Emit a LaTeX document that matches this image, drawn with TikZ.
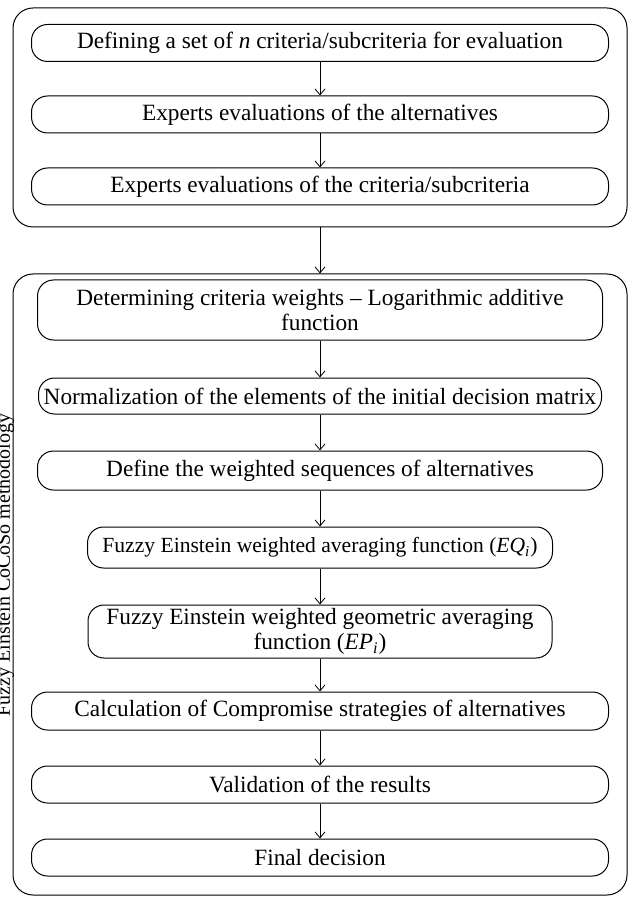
\documentclass[tikz,border=0pt]{standalone}
\usepackage{fontspec}
\setmainfont{Liberation Serif}
\usetikzlibrary{arrows.meta}
\newcommand\flowfont{\fontsize{11.65}{12.6}\selectfont}
\newcommand\smallflowfont{\fontsize{10.8}{12}\selectfont}
\newcommand\sub[1]{\textsubscript{\textit{#1}}}
\tikzstyle{frame}=[draw,line width=.5pt,rounded corners=10pt,inner sep=0pt]
\tikzstyle{stepbox}=[draw,line width=.5pt,rounded corners=8pt,inner sep=0pt,align=center,font=\flowfont]
\tikzstyle{flow}=[line width=.4pt,-{Straight Barb[length=3pt,width=5pt]}]
\begin{document}
\begin{tikzpicture}[x=.5pt,y=-.5pt]
	\useasboundingbox (0,0) rectangle (631,898);
	% the two groups
	\node[frame,minimum width=307pt,minimum height=109.5pt] (grpA) at (320,117.5) {};
	\node[frame,minimum width=307pt,minimum height=310.5pt] (grpB) at (320,584.5) {};
	\node[anchor=base,rotate=90,font=\fontsize{10}{11}\selectfont] (lbl) at (10,565) {Fuzzy Einstein CoCoSo methodology};
	%
	\node[stepbox,minimum width=288.5pt,minimum height=18.5pt] (d1) at (320,43) {Defining a set of \textit{n} criteria/subcriteria for evaluation};
	\node[stepbox,minimum width=288.5pt,minimum height=18.5pt] (d2) at (320,114.5) {Experts evaluations of the alternatives};
	\node[stepbox,minimum width=288.5pt,minimum height=18.5pt] (d3) at (320,186.5) {Experts evaluations of the criteria/subcriteria};
	%
	\node[stepbox,minimum width=282.5pt,minimum height=30pt] (d4) at (320,310) {Determining criteria weights -- Logarithmic additive\\function};
	\node[stepbox,minimum width=281.5pt,minimum height=18pt] (d5) at (320,396) {Normalization of the elements of the initial decision matrix};
	\node[stepbox,minimum width=282.5pt,minimum height=19.5pt] (d6) at (320,470.5) {Define the weighted sequences of alternatives};
	\node[stepbox,font=\smallflowfont,minimum width=232.5pt,minimum height=20.5pt] (d7) at (320,547.5) {Fuzzy Einstein weighted averaging function (\textit{EQ}\sub{i})};
	\node[stepbox,minimum width=232pt,minimum height=26.5pt] (d8) at (320,631.5) {Fuzzy Einstein weighted geometric averaging\\function (\textit{EP}\sub{i})};
	\node[stepbox,minimum width=288.5pt,minimum height=19pt] (d9) at (320,711) {Calculation of Compromise strategies of alternatives};
	\node[stepbox,minimum width=288.5pt,minimum height=18.5pt] (d10) at (320,784.5) {Validation of the results};
	\node[stepbox,minimum width=288.5pt,minimum height=18.5pt] (d11) at (320,857.5) {Final decision};
%
	\draw[flow] (d1) -- (d2);
	\draw[flow] (d2) -- (d3);
	\draw[flow] (grpA) -- (grpB);
	\draw[flow] (d4) -- (d5);
	\draw[flow] (d5) -- (d6);
	\draw[flow] (d6) -- (d7);
	\draw[flow] (d7) -- (d8);
	\draw[flow] (d8) -- (d9);
	\draw[flow] (d9) -- (d10);
	\draw[flow] (d10) -- (d11);
\end{tikzpicture}
\end{document}
